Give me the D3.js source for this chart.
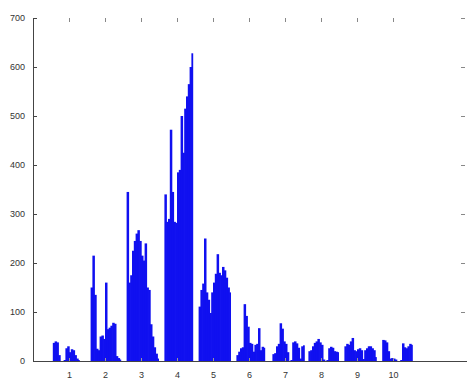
<!DOCTYPE html>
<html>
<head>
<meta charset="utf-8">
<script src="https://cdn.jsdelivr.net/npm/d3@7"></script>
<style>
  html, body { margin: 0; padding: 0; background: #fff; }
  svg { display: block; }
</style>
</head>
<body>
<svg id="chart" width="474" height="382"></svg>
<script>
// ---- data ----
const binWidth = 0.05;
const xTicks = [1, 2, 3, 4, 5, 6, 7, 8, 9, 10];
const yTicks = [0, 100, 200, 300, 400, 500, 600, 700];
const groupStarts = [0.55, 1.6, 2.6, 3.65, 4.6, 5.65, 6.65, 7.65, 8.65, 9.7];
const group1 = [37, 40, 38, 12, 0, 0, 2, 26, 30, 18, 24, 22, 12, 5, 2];
const group2 = [150, 215, 135, 25, 22, 50, 52, 45, 160, 65, 68, 72, 78, 76, 10, 6, 3];
const group3 = [345, 160, 175, 225, 245, 260, 267, 245, 215, 205, 240, 150, 145, 75, 50, 28, 15, 5];
const group4 = [340, 284, 290, 472, 345, 284, 282, 385, 390, 500, 425, 515, 540, 565, 600, 628];
const group5 = [111, 145, 158, 250, 140, 125, 98, 140, 160, 178, 218, 180, 175, 192, 185, 170, 150, 140];
const group6 = [12, 19, 26, 28, 116, 92, 70, 37, 35, 19, 33, 35, 67, 22, 29, 27];
const group7 = [14, 16, 30, 35, 77, 66, 40, 35, 18, 0, 2, 38, 40, 36, 27, 5, 30, 32];
const group8 = [20, 22, 30, 37, 40, 45, 38, 33, 3, 0, 2, 26, 29, 27, 20, 19, 18];
const group9 = [30, 35, 33, 40, 47, 22, 20, 24, 26, 22, 4, 22, 26, 30, 30, 26, 22, 8];
const group10 = [43, 42, 38, 20, 5, 6, 5, 3, 0, 0, 2, 36, 28, 26, 30, 35, 33];
const groups = [group1, group2, group3, group4, group5, group6, group7, group8, group9, group10];

// ---- chart ----
const svg = d3.select("#chart");
const mLeft = 33, mRight = 465, mTop = 18, mBottom = 361;
const x = d3.scaleLinear().domain([0, 12]).range([mLeft, mRight]);
const y = d3.scaleLinear().domain([0, 700]).range([mBottom, mTop]);

const bins = [];
groups.forEach((vals, g) => {
  vals.forEach((v, i) => {
    bins.push({ x0: groupStarts[g] + i * binWidth, v: v, last: i === vals.length - 1 });
  });
});

svg.append("g")
  .selectAll("rect")
  .data(bins.filter(d => d.v > 0))
  .join("rect")
  .attr("x", d => x(d.x0))
  .attr("width", d => x(d.x0 + binWidth) - x(d.x0) + (d.last ? 0 : 0.7))
  .attr("y", d => y(d.v))
  .attr("height", d => y(0) - y(d.v))
  .attr("fill", "#1010f0");

const fontStyle = g => g.selectAll("text")
  .attr("font-family", "Liberation Sans, Arial, sans-serif")
  .attr("font-size", "9px")
  .attr("fill", "#333");

// left axis
svg.append("g")
  .attr("transform", `translate(${mLeft},0)`)
  .call(d3.axisLeft(y).tickValues(yTicks).tickSize(-4).tickSizeOuter(0).tickPadding(8).tickFormat(d3.format("d")))
  .call(g => g.select(".domain").attr("stroke", "#444"))
  .call(g => g.selectAll(".tick line").attr("stroke", "#444"))
  .call(fontStyle);

// bottom axis
svg.append("g")
  .attr("transform", `translate(0,${mBottom})`)
  .call(d3.axisBottom(x).tickValues(xTicks).tickSize(-3).tickSizeOuter(0).tickPadding(11).tickFormat(d3.format("d")))
  .call(g => g.select(".domain").attr("stroke", "#444").attr("d", `M${mLeft},0.5H${mRight + 2}`))
  .call(g => g.selectAll(".tick line").attr("stroke", "#999"))
  .call(fontStyle);

// top ticks (no line)
svg.append("g")
  .attr("transform", `translate(0,${mTop})`)
  .call(d3.axisTop(x).tickValues(xTicks).tickSize(-4).tickFormat(""))
  .call(g => g.select(".domain").remove())
  .call(g => g.selectAll(".tick line").attr("stroke", "#888"));

// right ticks (no line)
svg.append("g")
  .attr("transform", `translate(${mRight},0)`)
  .call(d3.axisRight(y).tickValues(yTicks.slice(1)).tickSize(-4).tickFormat(""))
  .call(g => g.select(".domain").remove())
  .call(g => g.selectAll(".tick line").attr("stroke", "#888"));
</script>
</body>
</html>
